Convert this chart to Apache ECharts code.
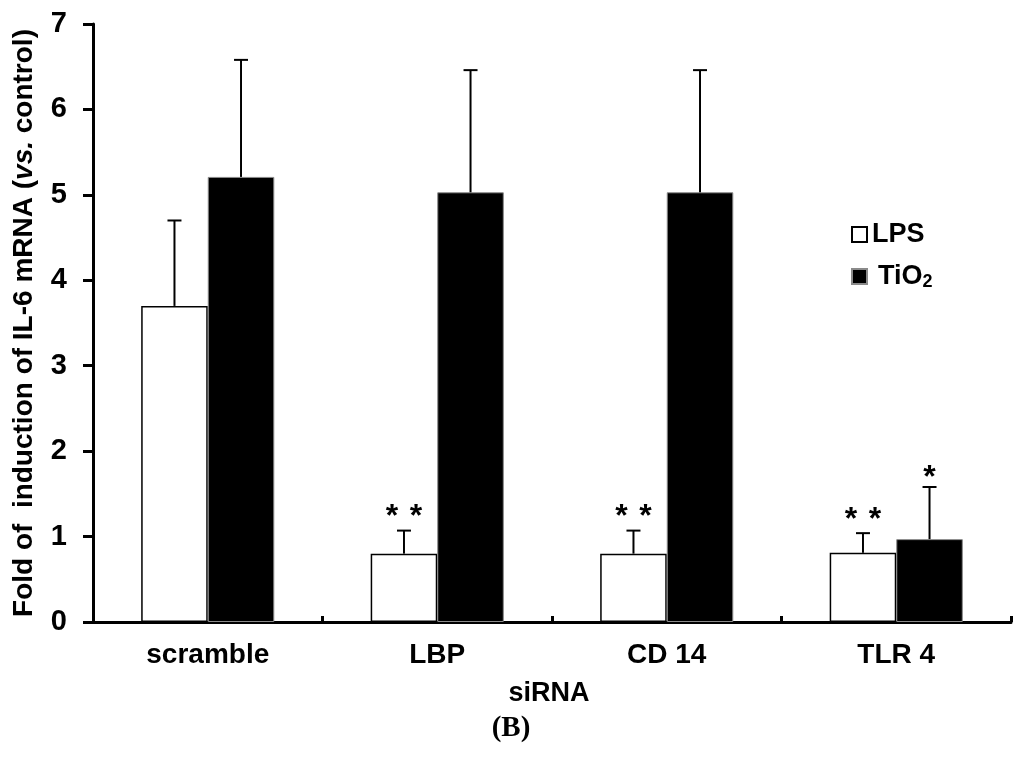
<!DOCTYPE html>
<html>
<head>
<meta charset="utf-8">
<script src="https://cdn.jsdelivr.net/npm/echarts@6/dist/echarts.min.js"></script>
<style>
html,body{margin:0;padding:0;background:#fff;}
#chart{width:1024px;height:758px;}
</style>
</head>
<body>
<div id="chart"></div>
<script>
// ---- data ----
const categories = ['scramble', 'LBP', 'CD 14', 'TLR 4'];
const lpsValues = [3.70, 0.80, 0.80, 0.81];
const lpsErrTop = [4.70, 1.07, 1.07, 1.04];
const tio2Values = [5.21, 5.03, 5.03, 0.97];
const tio2ErrTop = [6.58, 6.46, 6.46, 1.58];
const lpsSig = ['', '**', '**', '**'];
const tio2Sig = ['', '', '', '*'];
const yTicks = [0, 1, 2, 3, 4, 5, 6, 7];

const FONT = '"Liberation Sans", Arial, sans-serif';
const GAP_RATIO = 0.42;

function errorSeries(name, values, tops, sigs, side, sigOffset) {
  const data = values.map((v, i) => [i, v, tops[i], sigs[i]]);
  return {
    type: 'custom',
    name: name + '_err',
    z: 5,
    silent: true,
    data: data,
    encode: { x: 0, y: [1, 2] },
    renderItem: function (params, api) {
      const idx = api.value(0);
      const base = api.coord([idx, api.value(1)]);
      const top = api.coord([idx, api.value(2)]);
      const band = api.size([1, 0])[0];
      const barW = band * (1 - GAP_RATIO) / 2;
      const x = base[0] + side * barW / 2;
      const cap = 7;
      const sig = data[params.dataIndex][3] || '';
      const children = [
        { type: 'line', shape: { x1: x, y1: base[1], x2: x, y2: top[1] }, style: { stroke: '#000', lineWidth: 2 } },
        { type: 'line', shape: { x1: x - cap, y1: top[1], x2: x + cap, y2: top[1] }, style: { stroke: '#000', lineWidth: 2 } }
      ];
      const n = sig.length;
      for (let k = 0; k < n; k++) {
        children.push({
          type: 'text',
          style: {
            text: sig[k], x: x + (k - (n - 1) / 2) * 24, y: top[1] - sigOffset,
            align: 'center', verticalAlign: 'middle',
            font: 'bold 32px "Liberation Sans", Arial, sans-serif', fill: '#000'
          }
        });
      }
      return { type: 'group', children: children };
    }
  };
}

const chart = echarts.init(document.getElementById('chart'));
chart.setOption({
  backgroundColor: '#fff',
  animation: false,
  grid: { left: 93, right: 13, top: 24, bottom: 136, containLabel: false },
  legend: [
    {
      data: [{ name: 'LPS', icon: 'rect' }], left: 846, top: 216, itemWidth: 15, itemHeight: 15,
      textStyle: { fontFamily: FONT, fontWeight: 'bold', fontSize: 27, color: '#000', padding: [0, 0, 0, 0] },
      selectedMode: false
    },
    {
      data: [{ name: 'TiO2', icon: 'rect' }], left: 846, top: 258, itemWidth: 15, itemHeight: 15,
      formatter: function () { return '{m|TiO}{s|2}'; },
      textStyle: {
        fontFamily: FONT, fontWeight: 'bold', fontSize: 27, color: '#000', padding: [0, 0, 0, 6],
        rich: {
          m: { fontFamily: FONT, fontWeight: 'bold', fontSize: 27, color: '#000' },
          s: { fontFamily: FONT, fontWeight: 'bold', fontSize: 18, color: '#000', padding: [12, 0, 0, 0] }
        }
      },
      selectedMode: false
    }
  ],
  xAxis: {
    type: 'category',
    data: categories,
    boundaryGap: true,
    axisLine: { show: true, lineStyle: { color: '#000', width: 3 } },
    axisTick: { show: true, inside: true, length: 6, lineStyle: { color: '#000', width: 3 } },
    axisLabel: { color: '#000', fontFamily: FONT, fontWeight: 'bold', fontSize: 28, margin: 19 },
    splitLine: { show: false }
  },
  yAxis: {
    type: 'value',
    min: yTicks[0], max: yTicks[yTicks.length - 1], interval: 1,
    name: 'Fold of  induction of IL-6 mRNA ({i|vs.} control)',
    nameLocation: 'middle',
    nameRotate: 90,
    nameGap: 55,
    nameTextStyle: {
      color: '#000', fontFamily: FONT, fontWeight: 'bold', fontSize: 28,
      rich: { i: { fontFamily: FONT, fontWeight: 'bold', fontStyle: 'italic', fontSize: 28, color: '#000' } }
    },
    axisLine: { show: true, lineStyle: { color: '#000', width: 3 } },
    axisTick: { show: true, inside: false, length: 10, lineStyle: { color: '#000', width: 3 } },
    axisLabel: { color: '#000', fontFamily: FONT, fontWeight: 'bold', fontSize: 29, margin: 26 },
    splitLine: { show: false }
  },
  series: [
    {
      name: 'LPS', type: 'bar', data: lpsValues,
      barGap: '0%', barCategoryGap: (GAP_RATIO * 100) + '%',
      itemStyle: { color: '#fff', borderColor: '#000', borderWidth: 1.5 },
      z: 2
    },
    {
      name: 'TiO2', type: 'bar', data: tio2Values,
      barGap: '0%', barCategoryGap: (GAP_RATIO * 100) + '%',
      itemStyle: { color: '#000', borderColor: '#8a8a8a', borderWidth: 1 },
      z: 2
    },
    errorSeries('LPS', lpsValues, lpsErrTop, lpsSig, -1, 13),
    errorSeries('TiO2', tio2Values, tio2ErrTop, tio2Sig, 1, 9)
  ],
  graphic: [
    {
      type: 'text', x: 549, y: 694,
      style: { text: 'siRNA', align: 'center', verticalAlign: 'middle', font: 'bold 27px "Liberation Sans", Arial, sans-serif', fill: '#000' }
    },
    {
      type: 'text', x: 511, y: 729,
      style: { text: '(B)', align: 'center', verticalAlign: 'middle', font: 'bold 29px "Liberation Serif", "Times New Roman", serif', fill: '#000' }
    }
  ]
});
</script>
</body>
</html>
